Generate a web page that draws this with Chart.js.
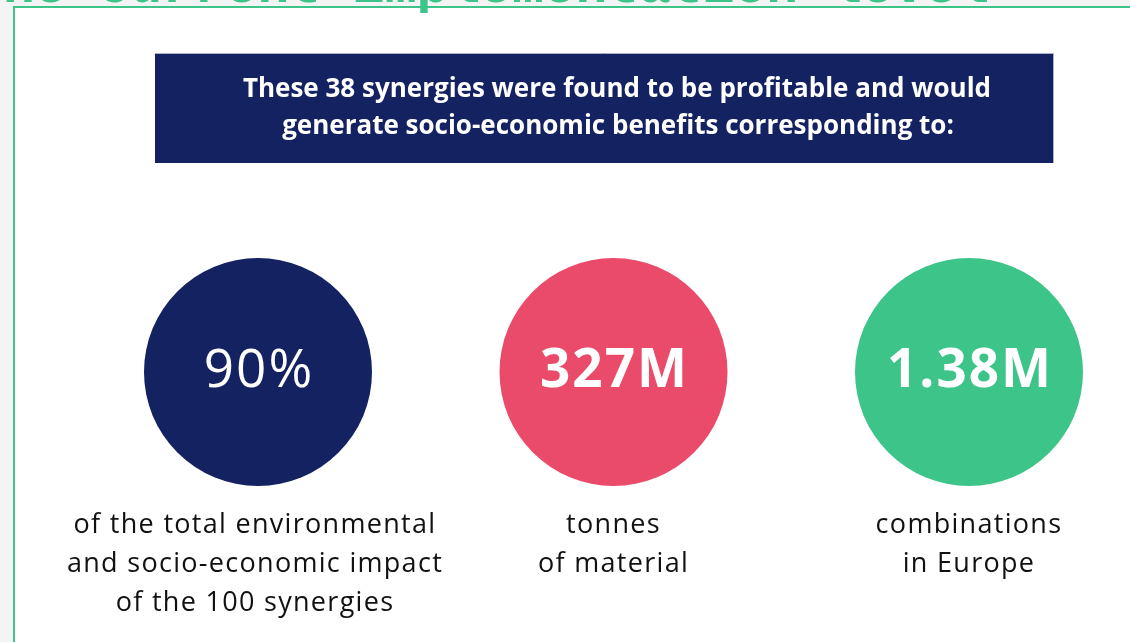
<!DOCTYPE html>
<html>
<head>
<meta charset="utf-8">
<title>Synergies benefits</title>
<script src="https://cdn.jsdelivr.net/npm/chart.js@4.4.1/dist/chart.umd.min.js"></script>
<style>
  html, body { margin: 0; padding: 0; background: #f4f4f4; }
  #wrap { width: 1130px; height: 642px; }
</style>
</head>
<body>
<div id="wrap"><canvas id="chartSinergias" width="1130" height="642"></canvas></div>
<script>
// Datos
const categorias = ['impact', 'material', 'combinations'];
const valores = [90, 327, 1.38];
const etiquetasValor = ['90%', '327M', '1.38M'];
const leyendas = [
    ['of the total environmental', 'and socio-economic impact', 'of the 100 synergies'],
    ['tonnes', 'of material'],
    ['combinations', 'in Europe']
];
const titulo = ['These 38 synergies were found to be profitable and would',
                'generate socio-economic benefits corresponding to:'];
const textoSuperior = 'he current implementation level';

const colores = ['#142262', '#ea4b6a', '#3cc489'];
const verde = '#3cc489';

// Fondo, marco y banner
const fondoPlugin = {
    id: 'fondo',
    beforeDraw(chart) {
        const ctx = chart.ctx;
        ctx.save();
        ctx.fillStyle = '#f4f4f4';
        ctx.fillRect(0, 0, chart.width, chart.height);
        ctx.fillStyle = '#ffffff';
        ctx.fillRect(13, 6, chart.width - 13, chart.height - 6);

        // texto cortado arriba
        ctx.fillStyle = verde;
        ctx.font = 'bold 53px "Liberation Mono", monospace';
        ctx.textBaseline = 'alphabetic';
        ctx.textAlign = 'left';
        ctx.fillText(textoSuperior, 3, 2);

        // lineas verdes
        ctx.fillRect(13, 6, chart.width - 13, 2);
        ctx.fillRect(13, 6, 2, chart.height - 6);

        // banner
        ctx.fillStyle = '#142262';
        ctx.fillRect(155, 53, 898, 110);
        ctx.strokeStyle = '#aab0c8';
        ctx.lineWidth = 1;
        ctx.beginPath();
        ctx.moveTo(155, 53.5); ctx.lineTo(1053.5, 53.5); ctx.lineTo(1053.5, 163);
        ctx.stroke();

        ctx.fillStyle = '#ffffff';
        ctx.font = 'bold 26px "Open Sans", sans-serif';
        ctx.textAlign = 'center';
        ctx.textBaseline = 'middle';
        ctx.fillText(titulo[0], 617, 90);
        ctx.fillText(titulo[1], 618, 127);
        ctx.restore();
    }
};

// Etiquetas de valor y leyendas
const etiquetasPlugin = {
    id: 'etiquetas',
    afterDatasetsDraw(chart) {
        const ctx = chart.ctx;
        const meta = chart.getDatasetMeta(0);
        ctx.save();
        ctx.textAlign = 'center';
        ctx.textBaseline = 'middle';
        meta.data.forEach(function(punto, i) {
            ctx.fillStyle = '#ffffff';
            ctx.letterSpacing = '2px';
            ctx.font = (i === 0 ? '' : 'bold ') + '53px "Open Sans", sans-serif';
            ctx.fillText(etiquetasValor[i], punto.x + 1, punto.y);

            ctx.fillStyle = '#111111';
            ctx.letterSpacing = '1.3px';
            ctx.font = '27px "Open Sans", sans-serif';
            leyendas[i].forEach(function(linea, j) {
                ctx.fillText(linea, punto.x - (i === 0 ? 3 : 0), punto.y + 153 + j * 39);
            });
        });
        ctx.restore();
    }
};

const ctx = document.getElementById('chartSinergias').getContext('2d');
const chartSinergias = new Chart(ctx, {
    type: 'scatter',
    data: {
        labels: categorias,
        datasets: [{
            label: 'Benefits',
            data: categorias.map((c, i) => ({ x: c, y: 'row', v: valores[i] })),
            backgroundColor: colores,
            borderWidth: 0,
            pointRadius: 114,
            pointHoverRadius: 114,
            clip: false
        }]
    },
    options: {
        responsive: false,
        animation: false,
        events: [],
        layout: { padding: { left: 258, right: 161, top: 258, bottom: 156 } },
        plugins: { legend: { display: false }, tooltip: { enabled: false } },
        scales: {
            x: { type: 'category', labels: categorias, display: false },
            y: { type: 'category', labels: ['row'], offset: true, display: false }
        }
    },
    plugins: [fondoPlugin, etiquetasPlugin]
});
</script>
</body>
</html>
